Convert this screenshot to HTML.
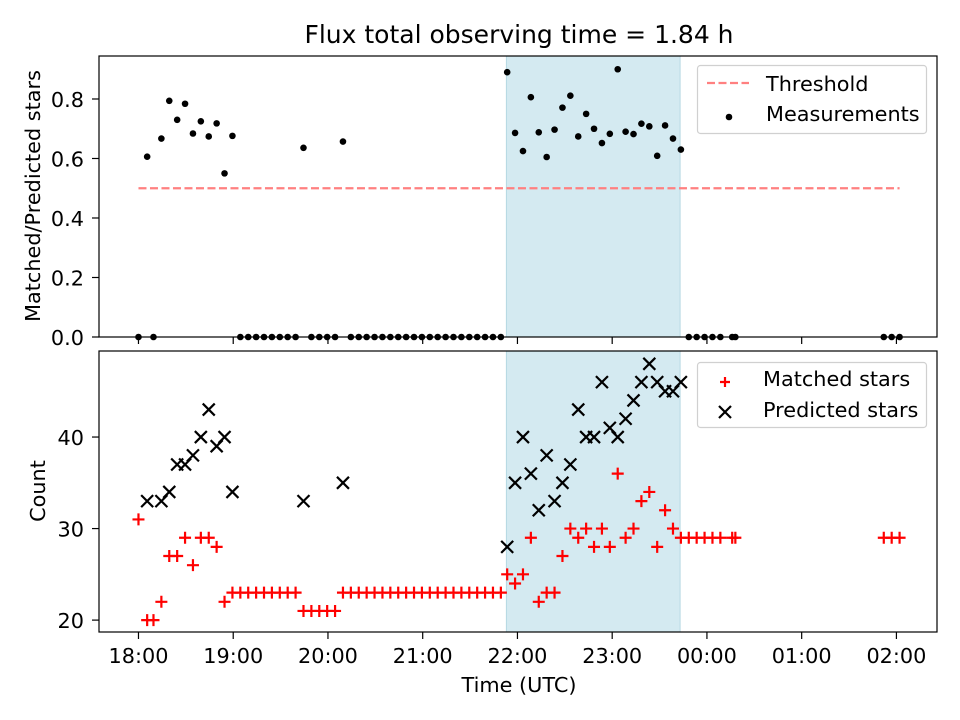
<!DOCTYPE html>
<html><head><meta charset="utf-8"><style>
body{margin:0;background:#fff;position:relative;}
svg{display:block;font-family:"DejaVu Sans","Liberation Sans",sans-serif;}
</style></head><body>
<svg id="chart" width="960" height="720" viewBox="0 0 960 720">
<rect width="960" height="720" fill="#fff"/>
<text x="519" y="43" font-size="25" text-anchor="middle">Flux total observing time = 1.84 h</text>
<g id="topG"></g><g id="botG"></g>
<text x="519" y="692" font-size="20.8" text-anchor="middle">Time (UTC)</text>
<text transform="translate(40,196) rotate(-90)" font-size="20.8" text-anchor="middle">Matched/Predicted stars</text>
<text transform="translate(45,491) rotate(-90)" font-size="20.8" text-anchor="middle">Count</text>
</svg>
<script>
// minutes after 18:00 UTC
const times = [0,5.5,9.5,14.5,19.5,24.5,29.5,34.5,39.5,44.5,49.5,54.5,59.5,
64.5,69.5,74.5,79.5,84.5,89.5,94.5,99.5,104.5,109.5,114.5,119.5,124.5,129.5,
134.5,139.5,144.5,149.5,154.5,159.5,164.5,169.5,174.5,179.5,184.5,189.5,194.5,199.5,204.5,209.5,214.5,219.5,224.5,229.5,
233.5,238.5,243.5,248.5,253.5,258.5,263.5,268.5,273.5,278.5,283.5,288.5,293.5,298.5,303.5,308.5,313.5,318.5,323.5,328.5,333.5,338.5,343.5,
348.5,353.5,358.5,363.5,368.5,376,378,472,477,482];
const matched = [31,20,20,22,27,27,29,26,29,29,28,22,23,
23,23,23,23,23,23,23,23,21,21,21,21,21,23,
23,23,23,23,23,23,23,23,23,23,23,23,23,23,23,23,23,23,23,23,
25,24,25,29,22,23,23,27,30,29,30,28,30,28,36,29,30,33,34,28,32,30,29,
29,29,29,29,29,29,29,29,29,29];
const predicted = [null,33,null,33,34,37,37,38,40,43,39,40,34,
null,null,null,null,null,null,null,null,33,null,null,null,null,35,
null,null,null,null,null,null,null,null,null,null,null,null,null,null,null,null,null,null,null,null,
28,35,40,36,32,38,33,35,37,43,40,40,46,41,40,42,44,46,48,46,45,45,46,
null,null,null,null,null,null,null,null,null,null];
const ratio = [0,0.606,0,0.667,0.794,0.730,0.784,0.684,0.725,0.674,0.718,0.550,0.676,
0,0,0,0,0,0,0,0,0.636,0,0,0,0,0.657,
0,0,0,0,0,0,0,0,0,0,0,0,0,0,0,0,0,0,0,0,
0.890,0.686,0.625,0.806,0.688,0.605,0.697,0.771,0.811,0.674,0.750,0.700,0.652,0.683,0.900,0.690,0.682,0.717,0.708,0.609,0.711,0.667,0.630,
0,0,0,0,0,0,0,0,0,0];
const threshold = 0.5;
const shadeSpan = [233, 343];
const xTickMinutes = [0,60,120,180,240,300,360,420,480];
const xTickLabels = ["18:00","19:00","20:00","21:00","22:00","23:00","00:00","01:00","02:00"];
const topTicks = [0,0.2,0.4,0.6,0.8];
const botTicks = [20,30,40];

const NS="http://www.w3.org/2000/svg";
const L=99,R=937;
const X0=-25,X1=505.7;
const x=m=>L+(m-X0)*(R-L)/(X1-X0);
const yT=v=>337-(v-0)*(337-56)/(0.9445);
const yB=c=>632-(c-18.7)*(632-351)/(49.4-18.7);
function mk(p,tag,a){const e=document.createElementNS(NS,tag);for(const k in a)e.setAttribute(k,a[k]);p.appendChild(e);return e;}
const topG=document.getElementById('topG'), botG=document.getElementById('botG');

function frame(g,y0,y1,yf,ticks,fmt,labels,name){
  const s=mk(g,'rect',{x:x(shadeSpan[0]),y:y0,width:x(shadeSpan[1])-x(shadeSpan[0]),height:y1-y0,fill:'#d4eaf1',stroke:'#b5d8e3','stroke-width':1});
  
  
  xTickMinutes.forEach((m,i)=>{
    const t=mk(g,'line',{x1:x(m),x2:x(m),y1:y1,y2:y1+7,stroke:'#000','stroke-width':1.2});
    
    
    if(labels){const tx=mk(g,'text',{x:x(m),y:y1+31,'font-size':20.8,'text-anchor':'middle'});tx.textContent=xTickLabels[i];
      
      }
  });
  ticks.forEach(v=>{
    const yy=yf(v);
    const t=mk(g,'line',{x1:L-7,x2:L,y1:yy,y2:yy,stroke:'#000','stroke-width':1.2});
    
    
    const tx=mk(g,'text',{x:L-15,y:yy+8,'font-size':20.8,'text-anchor':'end'});tx.textContent=fmt(v);
    
    
  });
}
frame(topG,56,337,yT,topTicks,v=>v.toFixed(1),false,'top');
frame(botG,351,632,yB,botTicks,v=>String(v),true,'bottom');

const th=mk(topG,'line',{x1:x(times[0]),x2:x(times[times.length-1]),y1:yT(threshold),y2:yT(threshold),stroke:'#ff8080','stroke-width':2.2,'stroke-dasharray':'8,3.5'});


times.forEach((m,i)=>{
  const c=mk(topG,'circle',{cx:x(m),cy:yT(ratio[i]),r:3.3,fill:'#000'});
  
  
});
times.forEach((m,i)=>{
  const cx=x(m),cy=yB(matched[i]);
  const p=mk(botG,'path',{d:`M${cx-6},${cy}H${cx+6}M${cx},${cy-6}V${cy+6}`,stroke:'#ff0000','stroke-width':2.2,fill:'none'});
  
  
  if(predicted[i]!==null){
    const py=yB(predicted[i]);
    const q=mk(botG,'path',{d:`M${cx-6},${py-6}L${cx+6},${py+6}M${cx-6},${py+6}L${cx+6},${py-6}`,stroke:'#000','stroke-width':2.2,fill:'none'});
    
    
  }
});
[[56,337,topG],[351,632,botG]].forEach(([a,b,g])=>{
  const r=mk(g,'rect',{x:L,y:a,width:R-L,height:b-a,fill:'none',stroke:'#000','stroke-width':1.2});
  
  
});
</script>
<svg style="position:absolute;left:0;top:0" width="960" height="720">
<g font-family="DejaVu Sans, sans-serif" font-size="20.8">
<rect x="697.5" y="65.5" width="229" height="68" rx="3" fill="#fff" fill-opacity="0.8" stroke="#d0d0d0" stroke-width="1.2"/>
<line x1="707" x2="749" y1="83" y2="83" stroke="#ff8080" stroke-width="2.2" stroke-dasharray="8,3.5"/>
<text x="766" y="91">Threshold</text>
<circle cx="729" cy="117" r="3.3" fill="#000"/>
<text x="766" y="121">Measurements</text>
</g>
<g font-family="DejaVu Sans, sans-serif" font-size="20.8">
<rect x="697.5" y="362.5" width="229" height="65" rx="3" fill="#fff" fill-opacity="0.8" stroke="#d0d0d0" stroke-width="1.2"/>
<path d="M720,382H730M725,377V387" stroke="#ff0000" stroke-width="2.2"/>
<text x="763" y="386">Matched stars</text>
<path d="M719,406L731,418M719,418L731,406" stroke="#000" stroke-width="2.2"/>
<text x="763" y="417">Predicted stars</text>
</g>
</svg>
</body></html>
